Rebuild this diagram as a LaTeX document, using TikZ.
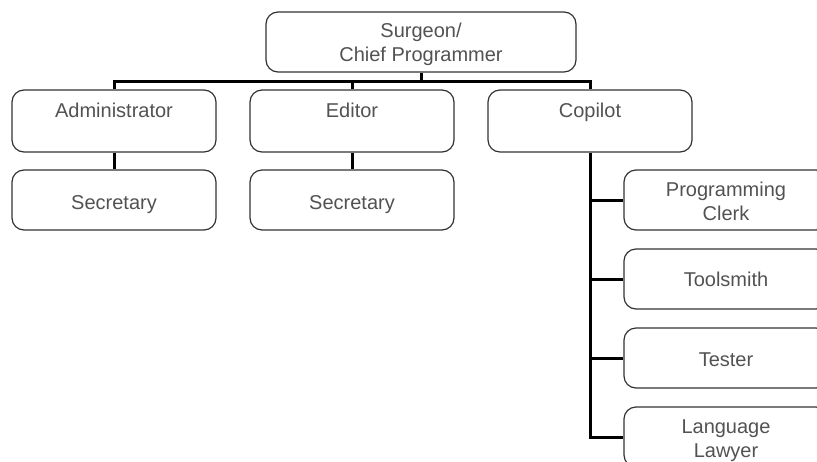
\documentclass[tikz,border=0pt]{standalone}
\usepackage{fontspec}
\setmainfont{Liberation Sans}
\begin{document}
\begin{tikzpicture}[x=1pt,y=-1pt,
  role/.style={draw=black!80, line width=1.2pt, rounded corners=12pt,
    minimum width=204pt, minimum height=60pt, inner sep=0pt},
  wide/.style={role, minimum width=310pt},
  tall/.style={role, minimum height=62pt},
  caption/.style={text=black!68, font=\fontsize{20}{24}\selectfont,
    align=center, anchor=base, inner sep=0pt},
  link/.style={line width=3pt, black}]
\useasboundingbox (0,0) rectangle (817,461);
\clip (0,0) rectangle (817,461);

% boxes
\node[wide] (surgeon) at (421,42) {};
\node[tall] (admin)   at (114,121) {};
\node[tall] (editor)  at (352,121) {};
\node[tall] (copilot) at (590,121) {};
\node[role] (sec1)    at (114,200) {};
\node[role] (sec2)    at (352,200) {};
\node[role] (clerk)   at (726,200) {};
\node[role] (tools)   at (726,279) {};
\node[role] (tester)  at (726,358) {};
\node[role] (lawyer)  at (726,437) {};

% captions
\node[caption] (surgeonA) at (421,37)    {Surgeon/};
\node[caption] (surgeonB) at (421,61.5)  {Chief Programmer};
\node[caption] (adminT)   at (114,117.3) {Administrator};
\node[caption] (editorT)  at (352,117.3) {Editor};
\node[caption] (copilotT) at (590,117.3) {Copilot};
\node[caption] (sec1T)    at (114,209)   {Secretary};
\node[caption] (sec2T)    at (352,209)   {Secretary};
\node[caption] (clerkA)   at (726,196.7) {Programming};
\node[caption] (clerkB)   at (726,220.7) {Clerk};
\node[caption] (toolsT)   at (726,286)   {Toolsmith};
\node[caption] (testerT)  at (726,366)   {Tester};
\node[caption] (lawyerA)  at (726,433.5) {Language};
\node[caption] (lawyerB)  at (726,457.5) {Lawyer};

% connectors
\coordinate (bus) at (421,81);
\coordinate (spine) at (590,200);
\draw[link] (surgeon.south) -- (bus);
\draw[link] (admin.north) |- (bus) -| (copilot.north);
\draw[link] (editor.north) -- (editor.north |- bus);
\draw[link] (admin.south) -- (sec1.north);
\draw[link] (editor.south) -- (sec2.north);
\draw[link] (copilot.south) |- (lawyer.west);
\draw[link] (copilot.south |- clerk.west) -- (clerk.west);
\draw[link] (copilot.south |- tools.west) -- (tools.west);
\draw[link] (copilot.south |- tester.west) -- (tester.west);
\end{tikzpicture}
\end{document}
